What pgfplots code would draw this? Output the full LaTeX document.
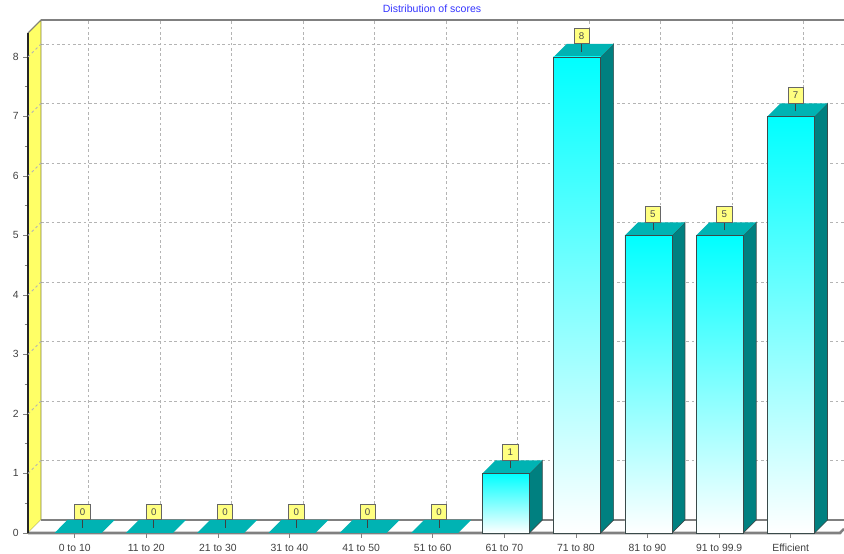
\documentclass[border=0pt]{standalone}
\usepackage{pgfplots}
\pgfplotsset{compat=1.18}
\usepackage{fontspec}
\setmainfont{Liberation Sans}
\definecolor{topc}{HTML}{00B3B3}
\definecolor{sidec}{HTML}{008080}
\definecolor{barline}{HTML}{3A4A4A}
\definecolor{wall}{HTML}{FFFF66}
\definecolor{boxc}{HTML}{FFFF80}
\definecolor{gridc}{HTML}{B4B4B4}
\definecolor{txt}{HTML}{404040}
\begin{document}
\begin{tikzpicture}
\useasboundingbox (0pt,0pt) rectangle (633pt,415.5pt);
% back plane: carries the grid
\begin{axis}[at={(30.75pt,25.5pt)},anchor=south west,scale only axis,
  width=602.25pt,height=375pt,
  xmin=-0.7013,xmax=10.561,ymin=0,ymax=8.403,
  xtick={-0.032,0.971,1.974,2.976,3.979,4.982,5.985,6.988,7.99,8.993,9.996},
  ytick={0,1,2,3,4,5,6,7,8},
  xticklabels={},yticklabels={},
  major tick length=0pt,
  axis line style={draw=none},
  grid=major,
  grid style={gridc,line width=0.7pt,dash pattern=on 2pt off 2pt},
]
\end{axis}
% front plane: data
\begin{axis}[at={(21pt,15.75pt)},anchor=south west,scale only axis,
  width=609pt,height=375pt,clip=false,
  xmin=-0.7013,xmax=10.687,ymin=0,ymax=8.403,
  axis lines=left,
  axis line style={draw=none},
  tick align=outside,
  tick style={draw=gray,line width=0.5pt},
  major tick length=3.5pt,minor tick length=2.5pt,
  xtick={-0.046,0.958,1.962,2.966,3.97,4.975,5.979,6.983,7.987,8.992,9.996},
  xticklabels={0 to 10,11 to 20,21 to 30,31 to 40,41 to 50,51 to 60,61 to 70,71 to 80,81 to 90,91 to 99.9,Efficient},
  ytick={0,1,2,3,4,5,6,7,8},
  minor x tick num=1,minor y tick num=1,
  typeset ticklabels with strut,
  xticklabel style={font=\fontsize{7.8pt}{8pt}\selectfont,text=txt,yshift=-1.2pt},
  yticklabel style={font=\fontsize{7.8pt}{8pt}\selectfont,text=txt,yshift=-1pt},
  /pgf/number format/assume math mode=true,
]
% yellow wall and floor
\addplot[fill=wall,draw=black!50!wall,line width=0.6pt] coordinates {(-0.7013,0)(-0.7013,8.403)(-0.519,8.6215)(-0.519,0.2185)} --cycle;
\addplot[fill=white,draw=none] coordinates {(-0.7013,0)(10.687,0)(10.743,0.07)(10.743,0.2185)(-0.519,0.2185)} --cycle;
\addplot[draw=gray,line width=1.1pt] coordinates {(-0.519,0.2185)(10.743,0.2185)};
\addplot[draw=gray,line width=1.3pt] coordinates {(-0.519,8.6215)(10.743,8.6215)};
\addplot[draw=gray,line width=0.7pt] coordinates {(-0.7013,8.403)(-0.519,8.6215)};
\addplot[draw=gray,line width=1.9pt] coordinates {(-0.7013,0)(10.687,0)(10.743,0.07)};
\addplot[draw=black!85,line width=1.5pt] coordinates {(-0.7013,0)(-0.7013,8.403)};
\foreach \g in {1,2,3,4,5,6,7,8}{
  \pgfmathsetmacro\gb{\g+0.2185}
  \edef\temp{\noexpand\addplot[draw=gridc,line width=0.6pt,dash pattern=on 2pt off 2pt] coordinates {(-0.7013,\g)(-0.519,\gb)};}\temp
}
% side faces
\foreach \i/\v in {6/1,7/8,8/5,9/5,10/7}{
  \pgfmathsetmacro\xr{\i+0.3296}
  \pgfmathsetmacro\xb{\i+0.5119}
  \pgfmathsetmacro\vb{\v+0.2185}
  \edef\temp{\noexpand\addplot[fill=sidec,draw=barline,line width=0.5pt] coordinates {(\xr,0)(\xr,\v)(\xb,\vb)(\xb,0.2185)} --cycle;}\temp
}
% top faces
\foreach \i/\v in {0/0,1/0,2/0,3/0,4/0,5/0,6/1,7/8,8/5,9/5,10/7}{
  \pgfmathsetmacro\xl{\i-0.3296}
  \pgfmathsetmacro\xr{\i+0.3296}
  \pgfmathsetmacro\xlb{\i-0.1473}
  \pgfmathsetmacro\xb{\i+0.5119}
  \pgfmathsetmacro\vb{\v+0.2185}
  \edef\temp{\noexpand\addplot[fill=topc,draw=none] coordinates {(\xl,\v)(\xr,\v)(\xb,\vb)(\xlb,\vb)} --cycle;}\temp
}
% front faces, one shaded bar each
\foreach \i/\v in {6/1,7/8,8/5,9/5,10/7}{
  \edef\temp{\noexpand\addplot[ybar,bar width=35.25pt,bar shift=0pt,draw=barline,line width=0.5pt,top color=cyan,bottom color=white] coordinates {(\i,\v)};}\temp
}
% stems
\foreach \i/\v in {0/0,1/0,2/0,3/0,4/0,5/0,6/1,7/8,8/5,9/5,10/7}{
  \pgfmathsetmacro\xs{\i+0.063}
  \pgfmathsetmacro\va{\v+0.2185}
  \pgfmathsetmacro\vc{\v+0.0845}
  \edef\temp{\noexpand\addplot[draw=black!75,line width=0.5pt] coordinates {(\xs,\vc)(\xs,\va)};}\temp
}
% value labels
\addplot[draw=none,mark=none,point meta=explicit symbolic,nodes near coords,
  nodes near coords style={anchor=south,inner sep=0pt,minimum width=11.5pt,minimum height=11.5pt,fill=boxc,draw=black!60,line width=0.5pt,text=black!70,font=\fontsize{7.3pt}{8pt}\selectfont}]
  coordinates {(0.063,0.2185)[0](1.063,0.2185)[0](2.063,0.2185)[0](3.063,0.2185)[0](4.063,0.2185)[0](5.063,0.2185)[0](6.063,1.2185)[1](7.063,8.2185)[8](8.063,5.2185)[5](9.063,5.2185)[5](10.063,7.2185)[7]};
\end{axis}
\node[text=blue!80!white,font=\fontsize{7.9pt}{8pt}\selectfont] at (324pt,409.2pt) {Distribution of scores};
\end{tikzpicture}
\end{document}
